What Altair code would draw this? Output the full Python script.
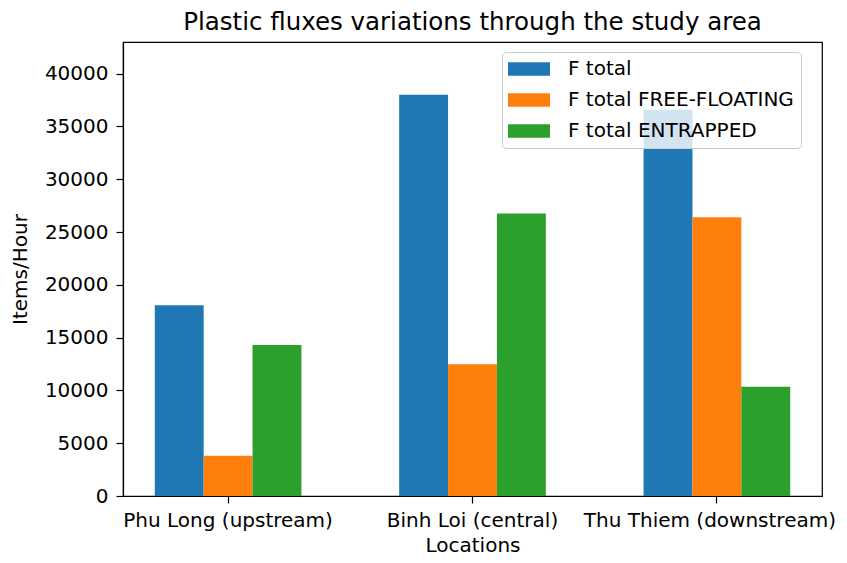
import altair as alt
import pandas as pd

locations = ["Phu Long (upstream)", "Binh Loi (central)", "Thu Thiem (downstream)"]
series = ["F total", "F total FREE-FLOATING", "F total ENTRAPPED"]
f_total = [18070, 38000, 36590]
f_free = [3810, 12490, 26400]
f_entrapped = [14290, 26750, 10340]
colors = ["#1f77b4", "#ff7f0e", "#2ca02c"]
y_ticks = [0, 5000, 10000, 15000, 20000, 25000, 30000, 35000, 40000]

rows = []
for name, vals in zip(series, [f_total, f_free, f_entrapped]):
    for loc, v in zip(locations, vals):
        rows.append({"location": loc, "series": name, "value": v})
df = pd.DataFrame(rows)

FONT = "DejaVu Sans"

chart = alt.Chart(df).mark_bar().encode(
    x=alt.X("location:N", sort=locations,
            scale=alt.Scale(paddingInner=0.4, paddingOuter=0.13),
            axis=alt.Axis(title="Locations", labelAngle=0, tickSize=7, labelLimit=0,
                          labelPadding=7, titlePadding=5,
                          labelOffset=alt.ExprRef("datum.value == 'Thu Thiem (downstream)' ? -7 : 0"))),
    xOffset=alt.XOffset("series:N", sort=series,
                        scale=alt.Scale(paddingInner=0, paddingOuter=0)),
    y=alt.Y("value:Q", scale=alt.Scale(domain=[0, 43000], nice=False),
            axis=alt.Axis(title="Items/Hour", values=y_ticks, format="d",
                          tickSize=7, labelPadding=8, titlePadding=14, grid=False)),
    color=alt.Color("series:N", sort=series,
                    scale=alt.Scale(domain=series, range=colors),
                    legend=alt.Legend(title=None, orient="none", legendX=379, legendY=10,
                                      symbolType="M-1.1,-0.67H3.1V0.67H-1.1Z", symbolSize=400,
                                      symbolStrokeWidth=0, labelFontSize=20, labelFont=FONT,
                                      labelColor="black", labelOffset=39, rowPadding=11,
                                      labelLimit=0, padding=7,
                                      fillColor="rgba(255,255,255,0.8)",
                                      strokeColor="#cccccc", cornerRadius=4)),
).properties(
    width=699, height=454,
    title=alt.TitleParams("Plastic fluxes variations through the study area",
                          font=FONT, fontSize=24.5, fontWeight="normal", color="black",
                          anchor="middle", baseline="bottom", offset=8, dy=25),
    autosize=alt.AutoSizeParams(type="none"),
    padding={"left": 115, "top": 34, "right": 17, "bottom": 60},
).configure_view(
    stroke="black", strokeWidth=1.2
).configure_axis(
    labelFont=FONT, titleFont=FONT, labelFontSize=20, titleFontSize=20,
    labelColor="black", titleColor="black", titleFontWeight="normal",
    domainColor="black", tickColor="black", domainWidth=1.2, tickWidth=1.2, grid=False
)

chart.save("out.html", embed_options={"renderer": "svg", "actions": False})
